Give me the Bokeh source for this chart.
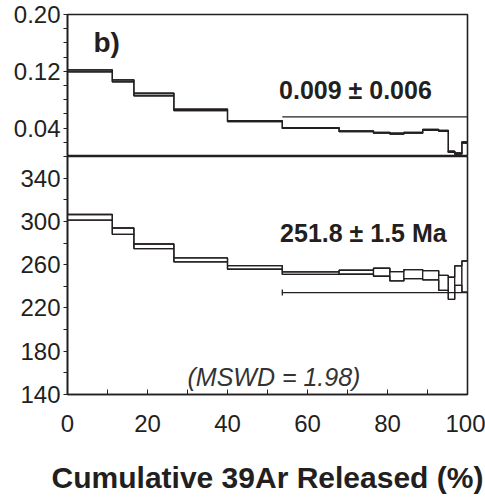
from bokeh.plotting import figure
from bokeh.layouts import column
from bokeh.models import FixedTicker, Label, Range1d, PrintfTickFormatter
from bokeh.embed import file_html
from bokeh.resources import INLINE

FONT = "Liberation Sans"
INK = "#231f20"

# step boundaries (cumulative % 39Ar released)
edges = [0, 11.2, 16.6, 26.6, 40.0, 53.7, 67.9, 76.5, 80.6, 84.1, 88.8, 92.8, 95.2, 96.8, 98.6, 100]

# upper panel ratio spectrum
ratio_vals = [0.1207, 0.1066, 0.0874, 0.0658, 0.0498, 0.0401, 0.0355, 0.0334, 0.0322,
              0.0335, 0.0375, 0.0362, 0.0066, 0.0042, 0.0197]
ratio_errs = [0.0014, 0.0014, 0.0019, 0.0010, 0.0006, 0.0006, 0.0006, 0.0006, 0.0006,
              0.0006, 0.0007, 0.0007, 0.0008, 0.0008, 0.0010]
ratio_plateau = 0.0559

# lower panel age spectrum (Ma)
age_vals = [303.8, 291.0, 277.0, 264.4, 257.5, 252.2, 253.0, 253.0, 249.3,
            251.3, 250.2, 243.2, 238.2, 249.9, 249.0]
age_errs = [2.6, 2.9, 2.1, 1.85, 1.7, 1.1, 1.85, 3.7, 4.35,
            4.2, 4.3, 6.9, 10.2, 9.0, 14.4]
age_plateau = 234.2
plateau_start = 53.7

x_ticks = [0, 20, 40, 60, 80, 100]
x_minor = [10, 30, 50, 70, 90]
ratio_ticks = [0.04, 0.12, 0.20]
ratio_minor = [0.02, 0.06, 0.08, 0.10, 0.14, 0.16, 0.18]
age_ticks = [140, 180, 220, 260, 300, 340]
age_minor = [160, 200, 240, 280, 320, 360]


def style(p):
    p.xgrid.grid_line_color = None
    p.ygrid.grid_line_color = None
    p.outline_line_color = INK
    p.outline_line_width = 1.6
    p.outline_line_alpha = 1
    p.background_fill_color = "white"
    p.border_fill_color = "white"
    for ax in p.yaxis:
        ax.axis_line_color = INK
        ax.axis_line_width = 1.6
        ax.major_tick_out = 4
        ax.major_tick_in = 0
        ax.minor_tick_out = 4
        ax.minor_tick_in = 0
        ax.major_tick_line_color = INK
        ax.minor_tick_line_color = INK
        ax.major_label_text_font = FONT
        ax.major_label_text_font_size = "24px"
        ax.major_label_text_color = INK
        ax.major_label_standoff = 3


def spectrum(p, vals, errs, fill):
    lefts = edges[:-1]
    rights = edges[1:]
    lows = [v - e for v, e in zip(vals, errs)]
    highs = [v + e for v, e in zip(vals, errs)]
    p.quad(left=lefts, right=rights, bottom=lows, top=highs,
           fill_color=fill, line_color=INK, line_width=1.3)
    p.step(x=edges, y=highs + [highs[-1]], mode="after", line_color=INK, line_width=1.3)
    p.step(x=edges, y=lows + [lows[-1]], mode="after", line_color=INK, line_width=1.3)


# ---------- top panel ----------
top = figure(width=485, height=156, x_range=Range1d(0, 100), y_range=Range1d(0, 0.2),
             output_backend="svg", toolbar_location=None, x_axis_location=None,
             min_border_left=67, min_border_right=18, min_border_top=14, min_border_bottom=0)
style(top)
top.yaxis.ticker = FixedTicker(ticks=ratio_ticks, minor_ticks=ratio_minor)
top.yaxis.formatter = PrintfTickFormatter(format="%.2f")
spectrum(top, ratio_vals, ratio_errs, "#9a9a9a")
top.segment(x0=[plateau_start], x1=[100], y0=[ratio_plateau], y1=[ratio_plateau],
            line_color=INK, line_width=1.2)
top.add_layout(Label(x=6.5, y=0.1606, text="b)", text_font=FONT, text_font_size="28px",
                     text_font_style="bold", text_color=INK, text_baseline="alphabetic"))
top.add_layout(Label(x=52.9, y=0.0935, text="0.009 ± 0.006", text_font=FONT,
                     text_font_size="25px", text_font_style="bold", text_color=INK,
                     text_baseline="alphabetic"))

# ---------- bottom panel ----------
bot = figure(width=485, height=346, x_range=Range1d(0, 100), y_range=Range1d(140, 360),
             output_backend="svg", toolbar_location=None,
             min_border_left=67, min_border_right=18, min_border_top=0, min_border_bottom=108)
style(bot)
bot.yaxis.ticker = FixedTicker(ticks=age_ticks, minor_ticks=age_minor)
bot.xaxis.ticker = FixedTicker(ticks=x_ticks, minor_ticks=x_minor)
xa = bot.xaxis[0]
xa.axis_line_color = INK
xa.axis_line_width = 1.6
xa.major_tick_in = 5
xa.major_tick_out = 0
xa.minor_tick_in = 5
xa.minor_tick_out = 0
xa.major_tick_line_color = INK
xa.minor_tick_line_color = INK
xa.major_label_text_font = FONT
xa.major_label_text_font_size = "24px"
xa.major_label_text_color = INK
xa.major_label_standoff = 20
xa.axis_label = "Cumulative 39Ar Released (%)"
xa.axis_label_text_font = FONT
xa.axis_label_text_font_size = "30px"
xa.axis_label_text_font_style = "bold"
xa.axis_label_text_color = INK
xa.axis_label_standoff = 26

spectrum(bot, age_vals, age_errs, "white")
bot.segment(x0=[plateau_start], x1=[100], y0=[age_plateau], y1=[age_plateau],
            line_color=INK, line_width=1.3)
bot.scatter(x=[plateau_start], y=[age_plateau], marker="dash", angle=1.5708, size=6,
            line_color=INK, line_width=1.3)
bot.add_layout(Label(x=53.15, y=289.4, text="251.8 ± 1.5 Ma", text_font=FONT,
                     text_font_size="25px", text_font_style="bold", text_color=INK,
                     text_baseline="alphabetic"))
bot.add_layout(Label(x=30, y=156, text="(MSWD = 1.98)", text_font=FONT,
                     text_font_size="25px", text_font_style="italic", text_color="#333333",
                     text_baseline="alphabetic"))

layout = column(top, bot, spacing=0)
open("out.html", "w").write(file_html(layout, INLINE))
